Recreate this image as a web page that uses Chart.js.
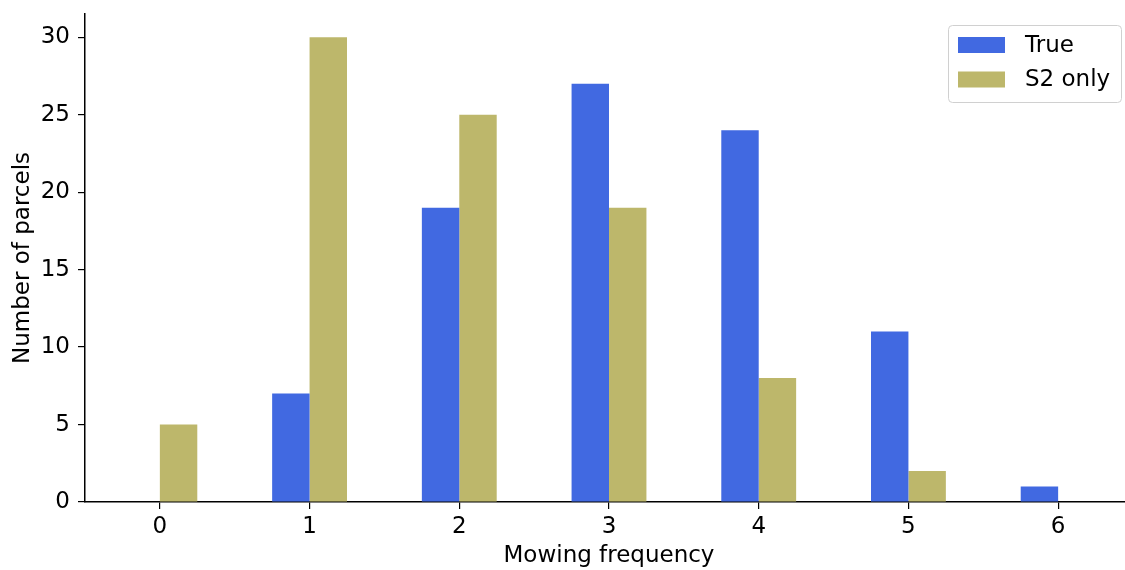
<!DOCTYPE html>
<html>
<head>
<meta charset="utf-8">
<script src="https://cdn.jsdelivr.net/npm/chart.js@4"></script>
<style>
  body { margin: 0; overflow: hidden; background: #fff; }
</style>
</head>
<body>
<canvas id="mowChart" width="1133" height="570"></canvas>
<script>
const categories = ['0', '1', '2', '3', '4', '5', '6'];
const trueCounts = [0, 7, 19, 27, 24, 11, 1];
const s2Counts = [5, 30, 25, 19, 8, 2, 0];
const yTicks = [0, 5, 10, 15, 20, 25, 30];

const FONT = 'DejaVu Sans';
const SIZE = 23;

// matplotlib-style legend box, upper right
const boxLegend = {
    id: 'boxLegend',
    afterDraw(chart) {
        const c = chart.ctx;
        const x = 948.5, y = 25.5, w = 173, h = 77;
        c.save();
        c.beginPath();
        c.roundRect(x, y, w, h, 4);
        c.fillStyle = 'rgba(255,255,255,0.8)';
        c.fill();
        c.strokeStyle = '#d0d0d0';
        c.lineWidth = 1;
        c.stroke();
        c.font = SIZE + 'px "' + FONT + '"';
        c.textBaseline = 'middle';
        chart.data.datasets.forEach((ds, i) => {
            const cy = 45 + i * 34.5;
            c.fillStyle = ds.backgroundColor;
            c.fillRect(958, cy - 8, 47, 16);
            c.fillStyle = '#000';
            c.fillText(ds.label, 1025, cy + 1);
        });
        c.restore();
    }
};

new Chart(document.getElementById('mowChart'), {
    type: 'bar',
    data: {
        labels: categories,
        datasets: [
            { label: 'True', data: trueCounts, backgroundColor: '#4169e1' },
            { label: 'S2 only', data: s2Counts, backgroundColor: '#bdb76b' }
        ]
    },
    options: {
        responsive: false,
        animation: false,
        datasets: { bar: { categoryPercentage: 0.5, barPercentage: 1.0, borderWidth: 0 } },
        layout: { padding: { top: 14, left: 0, right: 0, bottom: 0 } },
        plugins: { legend: { display: false }, tooltip: { enabled: false } },
        scales: {
            x: {
                offset: true,
                grid: { display: true, offset: false, drawOnChartArea: false, drawTicks: true, tickLength: 7, color: '#000', lineWidth: 1.2 },
                border: { display: true, color: '#000', width: 1.5 },
                ticks: { color: '#000', padding: 4, font: { family: FONT, size: SIZE } },
                title: { display: true, text: 'Mowing frequency', color: '#000', padding: { top: 4, bottom: 0 }, font: { family: FONT, size: SIZE } },
                afterFit(scale) { scale.height = 68; scale.paddingLeft = 0; scale.paddingRight = 0; }
            },
            y: {
                min: 0,
                max: 31.5,
                grid: { display: true, drawOnChartArea: false, drawTicks: true, tickLength: 7, color: '#000', lineWidth: 1.2 },
                border: { display: true, color: '#000', width: 1.5 },
                ticks: { color: '#000', padding: 8, font: { family: FONT, size: SIZE } },
                afterBuildTicks(scale) { scale.ticks = yTicks.map(v => ({ value: v })); },
                title: { display: true, text: 'Number of parcels', color: '#000', padding: { top: 9, bottom: 0 }, font: { family: FONT, size: SIZE } },
                afterFit(scale) { scale.width = 85; scale.paddingTop = 0; scale.paddingBottom = 0; }
            }
        }
    },
    plugins: [boxLegend]
});
</script>
</body>
</html>
